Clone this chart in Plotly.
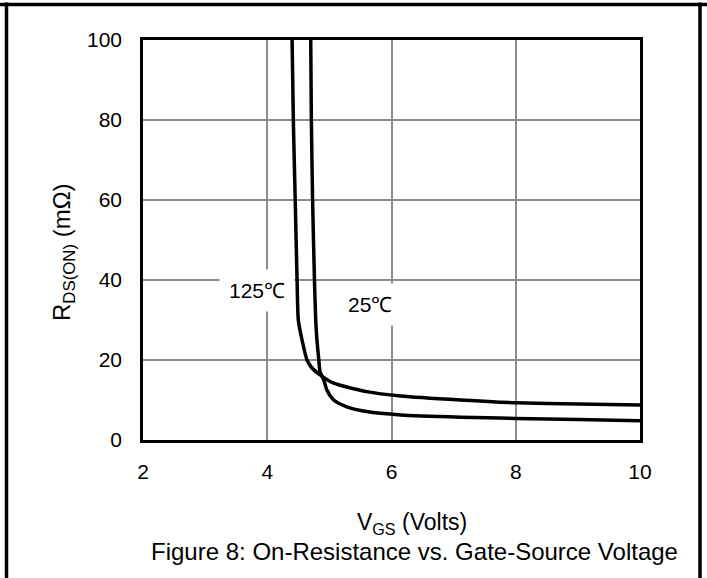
import plotly.graph_objects as go

# ---- data ----
vgs_125 = [4.40, 4.42, 4.45, 4.48, 4.50, 4.56, 4.64, 4.72, 4.85, 5.07, 5.6, 6.15, 7.11, 8.0, 9.0, 10.0]
rds_125 = [100, 80, 60, 40, 30, 25, 20, 18, 16.3, 14.2, 12.1, 11.0, 10.0, 9.3, 9.0, 8.75]

vgs_25 = [4.70, 4.71, 4.73, 4.76, 4.78, 4.80, 4.83, 4.85, 4.91, 4.96, 5.07, 5.28, 5.6, 6.15, 7.11, 8.0, 9.0, 10.0]
rds_25 = [100, 80, 60, 40, 30, 25, 20, 17, 15, 12.5, 10, 8.3, 7.1, 6.25, 5.7, 5.4, 5.1, 4.8]

x_ticks = [2, 4, 6, 8, 10]
y_ticks = [0, 20, 40, 60, 80, 100]

label_125 = "125℃"
label_25 = "25℃"
x_title = "V<sub>GS</sub> (Volts)"
y_title = "R<sub>DS(ON)</sub> (mΩ)"
caption = "Figure 8: On-Resistance vs. Gate-Source Voltage"

FONT = "Liberation Sans, Arial, sans-serif"

fig = go.Figure()
fig.add_trace(go.Scatter(x=vgs_125, y=rds_125, mode="lines",
                         line=dict(color="black", width=3.5, shape="spline", smoothing=0.6),
                         showlegend=False, hoverinfo="skip"))
fig.add_trace(go.Scatter(x=vgs_25, y=rds_25, mode="lines",
                         line=dict(color="black", width=3.5, shape="spline", smoothing=0.6),
                         showlegend=False, hoverinfo="skip"))

W, H = 707, 578
L, R, T, B = 143, 67, 40, 138
pw, ph = W - L - R, H - T - B

def px(xp):
    return (xp - L) / pw

def py(yp):
    return (H - B - yp) / ph

fig.update_layout(
    width=W, height=H,
    margin=dict(l=L, r=R, t=T, b=B, pad=0),
    paper_bgcolor="white", plot_bgcolor="white",
    font=dict(family=FONT, size=21, color="black"),
    xaxis=dict(range=[2, 10], tickvals=x_ticks, ticks="", ticklabelstandoff=11,
               showgrid=True, gridcolor="#8c8c8c", gridwidth=2,
               showline=True, linecolor="black", linewidth=2.5, mirror=True,
               zeroline=False, tickfont=dict(size=21)),
    yaxis=dict(range=[0, 100], tickvals=y_ticks, ticks="", ticklabelstandoff=14,
               showgrid=True, gridcolor="#8c8c8c", gridwidth=2,
               showline=True, linecolor="black", linewidth=2.5, mirror=True,
               zeroline=False, tickfont=dict(size=21)),
    annotations=[
        dict(x=3.84, y=37.5, xref="x", yref="y", text=label_125, showarrow=False,
             bgcolor="white", borderpad=9, font=dict(size=21)),
        dict(x=5.65, y=33.8, xref="x", yref="y", text=label_25, showarrow=False,
             bgcolor="white", borderpad=9, font=dict(size=21)),
        dict(x=px(63), y=py(252), xref="paper", yref="paper", text=y_title,
             textangle=-90, showarrow=False, xanchor="center", yanchor="middle",
             font=dict(size=24)),
        dict(x=px(412), y=py(523), xref="paper", yref="paper", text=x_title,
             showarrow=False, xanchor="center", yanchor="middle", font=dict(size=23)),
        dict(x=px(414), y=py(551), xref="paper", yref="paper", text=caption,
             showarrow=False, xanchor="center", yanchor="middle", font=dict(size=24)),
    ],
    shapes=[
        dict(type="line", xref="paper", yref="paper", x0=px(6.5), x1=px(6.5),
             y0=py(2.5), y1=py(600), line=dict(color="black", width=3.5)),
        dict(type="line", xref="paper", yref="paper", x0=px(700), x1=px(700),
             y0=py(2.5), y1=py(600), line=dict(color="black", width=3.5)),
        dict(type="line", xref="paper", yref="paper", x0=px(0), x1=px(707),
             y0=py(4.5), y1=py(4.5), line=dict(color="black", width=3.5)),
    ],
)

fig.write_html("out.html",
               config={"displayModeBar": False},
               post_script="document.body.style.margin='0px';document.body.style.padding='0px';")
